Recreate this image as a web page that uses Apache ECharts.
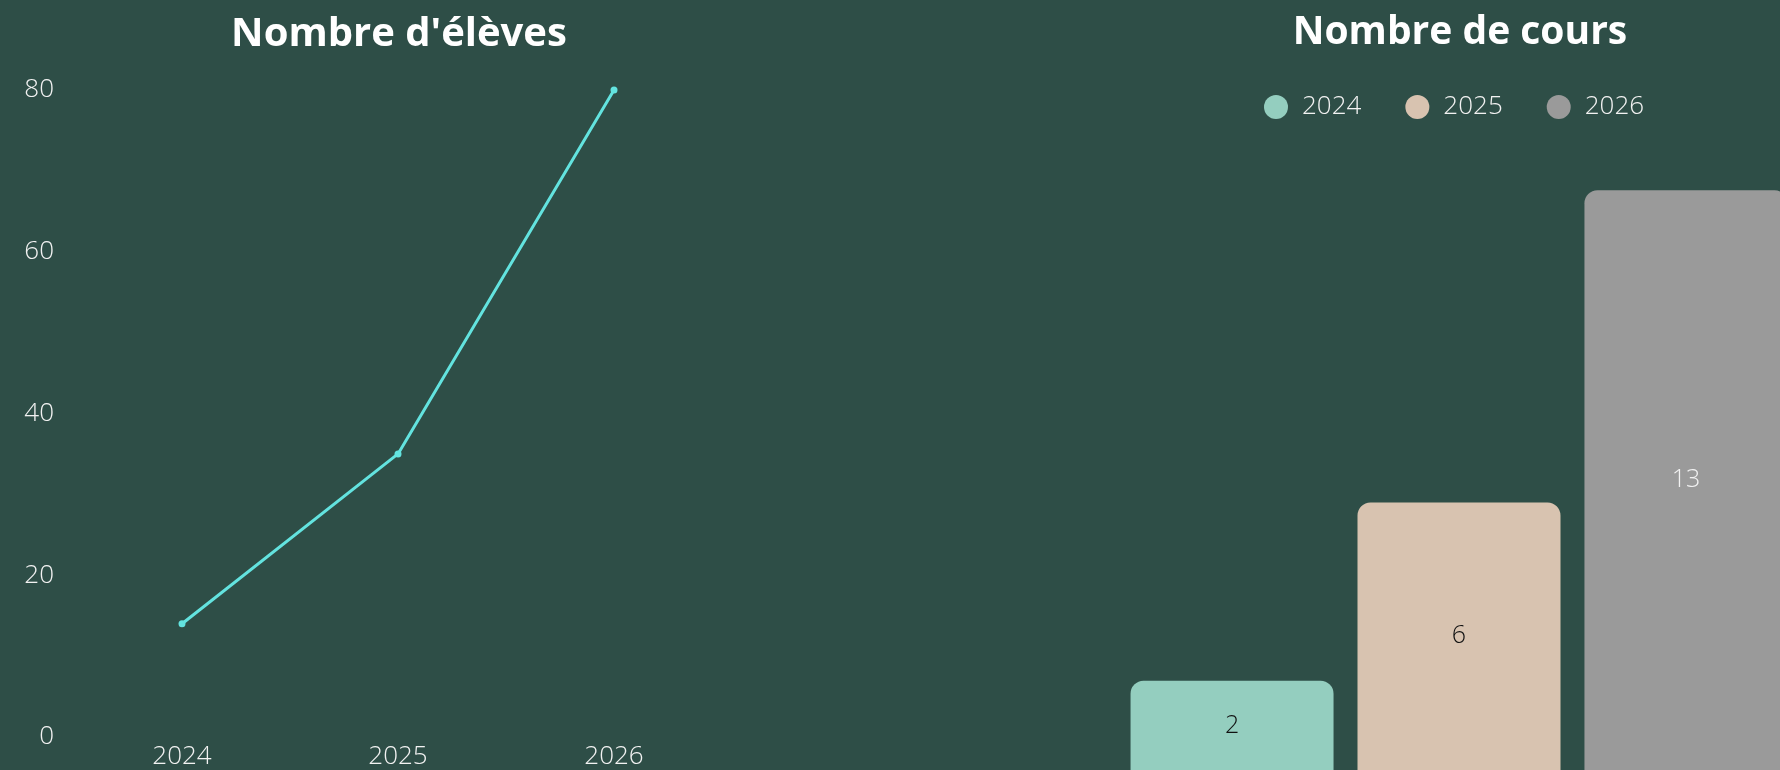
<!DOCTYPE html>
<html>
<head>
<meta charset="utf-8">
<script src="https://cdn.jsdelivr.net/npm/echarts@6/dist/echarts.min.js"></script>
<style>
html,body{margin:0;padding:0;background:#2e4e47;}
#c{width:1780px;height:770px;}
</style>
</head>
<body>
<div id="c"></div>
<script>
const years = ['2024', '2025', '2026'];
const eleves = [14, 35, 80];
const cours = [2, 6, 13];
const coursColors = ['#94cebf', '#d8c3b0', '#9a9a9a'];
const coursLabelColors = ['#111111', '#111111', '#f2f2f2'];
const titleEleves = "Nombre d'élèves";
const titleCours = 'Nombre de cours';

const FONT = '"Open Sans", "Noto Sans", sans-serif';
const chart = echarts.init(document.getElementById('c'));

const barSeries = years.map((y, i) => ({
  name: y,
  type: 'bar',
  xAxisIndex: 1,
  yAxisIndex: 1,
  data: [cours[i]],
  barWidth: 203,
  barGap: '11.8%',
  clip: false,
  itemStyle: { color: coursColors[i], borderRadius: [13, 13, 0, 0] },
  label: {
    show: true, position: 'inside', color: coursLabelColors[i],
    fontFamily: FONT, fontSize: 25, fontWeight: 300
  }
}));

chart.setOption({
  backgroundColor: '#2e4e47',
  animation: false,
  title: [
    { text: titleEleves, left: 394, top: 10, textAlign: 'center',
      textStyle: { color: '#ffffff', fontFamily: FONT, fontSize: 40, fontWeight: 'bold' } },
    { text: titleCours, left: 1455, top: 8, textAlign: 'center',
      textStyle: { color: '#ffffff', fontFamily: FONT, fontSize: 39, fontWeight: 'bold' } }
  ],
  legend: {
    data: years,
    left: 1259, top: 89,
    icon: 'circle', itemWidth: 24, itemHeight: 24, itemGap: 44,
    textStyle: { color: '#f2f2f2', fontFamily: FONT, fontSize: 26, fontWeight: 300, padding: [0, 0, 0, 9] }
  },
  grid: [
    { left: 74, width: 648, top: 90, height: 651 },
    { left: 1138, right: 0, top: 101, bottom: 0 }
  ],
  xAxis: [
    { type: 'category', gridIndex: 0, data: years, boundaryGap: true,
      axisLine: { show: false }, axisTick: { show: false },
      axisLabel: { color: '#f2f2f2', fontFamily: FONT, fontSize: 26, fontWeight: 300, margin: 7 } },
    { type: 'category', gridIndex: 1, data: [titleCours], show: false }
  ],
  yAxis: [
    { type: 'value', gridIndex: 0, min: 0, max: 80, interval: 20,
      axisLine: { show: false }, axisTick: { show: false }, splitLine: { show: false },
      axisLabel: { color: '#f2f2f2', fontFamily: FONT, fontSize: 26, fontWeight: 300, margin: 20,
        padding: [0, 0, 10, 0] } },
    { type: 'value', gridIndex: 1, min: 0, max: 15, show: false, splitLine: { show: false } }
  ],
  series: [
    { name: titleEleves, type: 'line', xAxisIndex: 0, yAxisIndex: 0, data: eleves,
      symbol: 'circle', symbolSize: 7,
      lineStyle: { color: '#63e3df', width: 3 },
      itemStyle: { color: '#63e3df' } },
    ...barSeries
  ]
});
</script>
</body>
</html>
